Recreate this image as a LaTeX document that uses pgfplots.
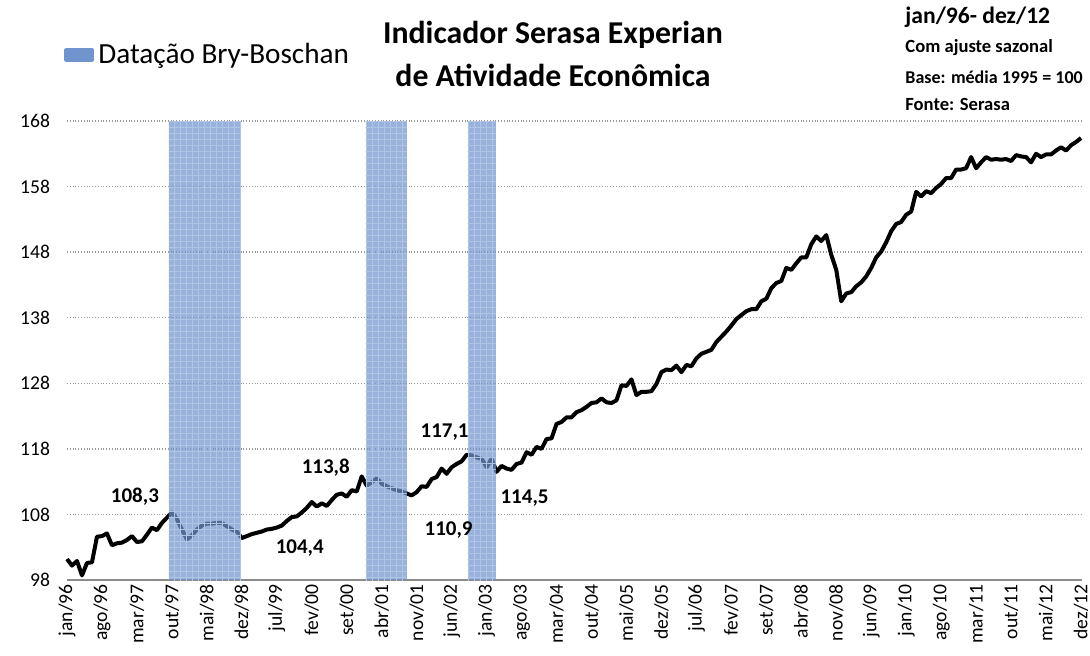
\documentclass[border=0pt]{standalone}
\usepackage{fontspec}
\setmainfont{Carlito}
\usepackage{pgfplots}
\usepackage{pgfplotstable}
\pgfplotsset{compat=1.18}
\usetikzlibrary{patterns}

\definecolor{bbblue}{RGB}{112,148,206}

% monthly index, jan/96 = 0 ... dez/12 = 203
\pgfplotstableread[row sep=\\]{
m v\\
0 101.2\\ 1 100.2\\ 2 100.9\\ 3 98.7\\ 4 100.6\\ 5 100.7\\ 6 104.6\\ 7 104.7\\ 8 105.1\\ 9 103.3\\
10 103.6\\ 11 103.7\\ 12 104.1\\ 13 104.7\\ 14 103.8\\ 15 103.9\\ 16 104.9\\ 17 106.0\\ 18 105.6\\ 19 106.7\\
20 107.5\\ 21 108.3\\ 22 107.3\\ 23 105.7\\ 24 104.2\\ 25 104.8\\ 26 105.7\\ 27 106.3\\ 28 106.6\\ 29 106.6\\
30 106.7\\ 31 106.7\\ 32 106.2\\ 33 105.7\\ 34 105.4\\ 35 104.4\\ 36 104.7\\ 37 105.0\\ 38 105.2\\ 39 105.4\\
40 105.7\\ 41 105.8\\ 42 106.0\\ 43 106.3\\ 44 107.0\\ 45 107.6\\ 46 107.7\\ 47 108.3\\ 48 109.0\\ 49 109.9\\
50 109.2\\ 51 109.7\\ 52 109.3\\ 53 110.2\\ 54 111.0\\ 55 111.2\\ 56 110.7\\ 57 111.7\\ 58 111.5\\ 59 113.8\\
60 112.4\\ 61 112.9\\ 62 113.5\\ 63 112.7\\ 64 112.3\\ 65 112.0\\ 66 111.7\\ 67 111.5\\ 68 111.2\\ 69 110.9\\
70 111.4\\ 71 112.3\\ 72 112.2\\ 73 113.4\\ 74 113.7\\ 75 115.0\\ 76 114.2\\ 77 115.2\\ 78 115.7\\ 79 116.1\\
80 117.1\\ 81 117.0\\ 82 116.7\\ 83 116.5\\ 84 115.2\\ 85 116.5\\ 86 114.5\\ 87 115.4\\ 88 115.0\\ 89 114.8\\
90 115.7\\ 91 115.9\\ 92 117.5\\ 93 117.1\\ 94 118.3\\ 95 118.0\\ 96 119.5\\ 97 119.6\\ 98 121.8\\ 99 122.1\\
100 122.8\\ 101 122.8\\ 102 123.6\\ 103 123.9\\ 104 124.4\\ 105 125.0\\ 106 125.1\\ 107 125.7\\ 108 125.1\\ 109 125.0\\
110 125.4\\ 111 127.7\\ 112 127.6\\ 113 128.6\\ 114 126.2\\ 115 126.7\\ 116 126.7\\ 117 126.8\\ 118 127.9\\ 119 129.7\\
120 130.1\\ 121 130.0\\ 122 130.7\\ 123 129.7\\ 124 130.8\\ 125 130.6\\ 126 131.8\\ 127 132.5\\ 128 132.8\\ 129 133.1\\
130 134.3\\ 131 135.1\\ 132 135.9\\ 133 136.8\\ 134 137.8\\ 135 138.4\\ 136 139.0\\ 137 139.3\\ 138 139.3\\ 139 140.5\\
140 140.9\\ 141 142.5\\ 142 143.3\\ 143 143.6\\ 144 145.6\\ 145 145.3\\ 146 146.3\\ 147 147.2\\ 148 147.2\\ 149 149.2\\
150 150.4\\ 151 149.7\\ 152 150.6\\ 153 147.6\\ 154 145.3\\ 155 140.5\\ 156 141.7\\ 157 141.9\\ 158 142.8\\ 159 143.4\\
160 144.3\\ 161 145.6\\ 162 147.2\\ 163 148.1\\ 164 149.5\\ 165 151.2\\ 166 152.3\\ 167 152.6\\ 168 153.7\\ 169 154.2\\
170 157.2\\ 171 156.5\\ 172 157.3\\ 173 157.0\\ 174 157.8\\ 175 158.4\\ 176 159.3\\ 177 159.3\\ 178 160.6\\ 179 160.6\\
180 160.8\\ 181 162.5\\ 182 160.8\\ 183 161.7\\ 184 162.5\\ 185 162.1\\ 186 162.2\\ 187 162.1\\ 188 162.2\\ 189 161.9\\
190 162.8\\ 191 162.6\\ 192 162.5\\ 193 161.7\\ 194 163.0\\ 195 162.5\\ 196 162.9\\ 197 162.9\\ 198 163.5\\ 199 164.0\\
200 163.5\\ 201 164.3\\ 202 164.8\\ 203 165.4\\
}\serasa

\begin{document}
\begin{tikzpicture}
\path[use as bounding box] (0,0) rectangle (545pt,327.5pt);
\begin{axis}[
    at={(33.5pt,37.5pt)}, anchor=south west,
    scale only axis,
    width=507pt, height=229.5pt,
    xmin=0, xmax=203,
    ymin=98, ymax=168,
    xtick={0,7,...,203},
    xticklabels={jan/96,ago/96,mar/97,out/97,mai/98,dez/98,jul/99,fev/00,set/00,abr/01,nov/01,jun/02,jan/03,ago/03,mar/04,out/04,mai/05,dez/05,jul/06,fev/07,set/07,abr/08,nov/08,jun/09,jan/10,ago/10,mar/11,out/11,mai/12,dez/12},
    ytick={98,108,...,168},
    /pgf/number format/assume math mode=true,
    tick label style={font=\fontsize{9.8}{12}\selectfont},
    xticklabel style={rotate=90, anchor=east, inner xsep=2pt},
    yticklabel style={xshift=-5pt},
    major tick length=0pt,
    axis x line*=bottom, axis y line*=left,
    x axis line style={draw=gray!90, line width=1.2pt, -},
    y axis line style={draw=none},
    ymajorgrids,
    grid style={densely dotted, gray!80, line width=0.7pt},
    legend style={at={(rel axis cs:-0.003,1.144)}, anchor=west, draw=none, fill=none,
        font=\fontsize{14.6}{17}\selectfont, inner sep=0pt},
    legend image code/.code={\fill[bbblue] (0pt,-2.3pt) rectangle (13pt,2.3pt);},
    clip=false,
]
\addplot[black, line width=2pt, line join=round] table[x=m, y=v] {\serasa};
\addplot[draw=none, fill=bbblue, fill opacity=0.72,
    postaction={pattern=grid, pattern color=bbblue!55}]
    coordinates {(20.4,98) (34.8,98) (34.8,168) (20.4,168)} -- cycle;
\addlegendentry{Datação Bry-Boschan}
\addplot[draw=none, fill=bbblue, fill opacity=0.72, forget plot,
    postaction={pattern=grid, pattern color=bbblue!55}]
    coordinates {(59.8,98) (68.0,98) (68.0,168) (59.8,168)} -- cycle;
\addplot[draw=none, fill=bbblue, fill opacity=0.72, forget plot,
    postaction={pattern=grid, pattern color=bbblue!55}]
    coordinates {(80.2,98) (85.8,98) (85.8,168) (80.2,168)} -- cycle;

\begin{scope}[font=\bfseries\fontsize{10.5}{12}\selectfont]
\node at (axis cs:13.6,110.7) {108,3};
\node at (axis cs:46.6,102.9) {104,4};
\node at (axis cs:51.8,115.2) {113,8};
\node at (axis cs:76.4,105.6) {110,9};
\node at (axis cs:75.6,120.6) {117,1};
\node at (axis cs:91.6,110.5) {114,5};
\end{scope}
\end{axis}

\node[font=\bfseries\fontsize{15.9}{18}\selectfont] at (276.5pt,310pt) {Indicador Serasa Experian};
\node[font=\bfseries\fontsize{15.9}{18}\selectfont] at (276.5pt,290pt) {de Atividade Econômica};

\node[anchor=west, inner sep=0pt, font=\bfseries\fontsize{11.8}{14}\selectfont] at (452.5pt,319pt) {jan/96- dez/12};
\node[anchor=west, inner sep=0pt, font=\bfseries\fontsize{9.3}{11}\selectfont] at (452.5pt,303.5pt) {Com ajuste sazonal};
\node[anchor=west, inner sep=0pt, font=\bfseries\fontsize{9}{11}\selectfont] at (452.5pt,289pt) {Base: média 1995 = 100};
\node[anchor=west, inner sep=0pt, font=\bfseries\fontsize{9.3}{11}\selectfont] at (452.5pt,275.5pt) {Fonte: Serasa};
\end{tikzpicture}
\end{document}
